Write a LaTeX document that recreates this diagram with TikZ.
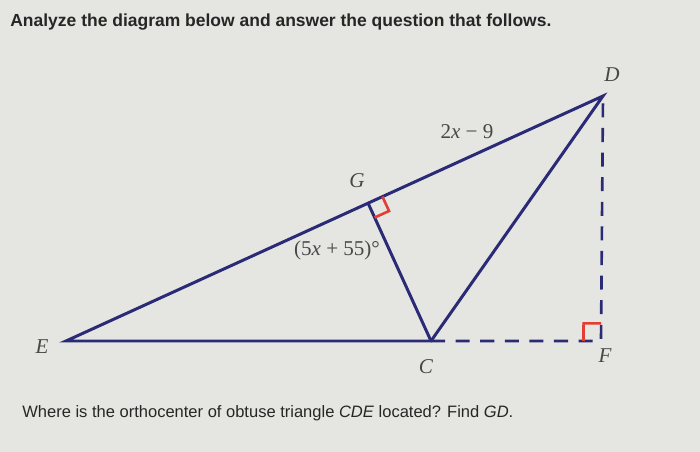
\documentclass[tikz,border=0pt]{standalone}
\usepackage{fontspec}
\setmainfont{Liberation Serif}
\setsansfont{Liberation Sans}
\usetikzlibrary{calc}
\definecolor{lineblue}{RGB}{42,42,118}
\definecolor{markred}{RGB}{226,62,52}
\definecolor{paper}{RGB}{229,230,226}
\definecolor{labelgray}{RGB}{72,72,72}
\definecolor{textgray}{RGB}{38,38,38}
\begin{document}
\begin{tikzpicture}[x=0.02cm,y=-0.02cm,
	side/.style={color=lineblue,line width=1.7pt,line join=miter},
	dashside/.style={color=lineblue,line width=1.5pt,dash pattern=on 8pt off 6pt},
	rightmark/.style={color=markred,line width=1.5pt},
	vlabel/.style={color=labelgray,font=\fontsize{12}{14}\selectfont\itshape,inner sep=0pt},
	mlabel/.style={color=labelgray,font=\fontsize{12}{14}\selectfont,inner sep=0pt},
	question/.style={color=textgray,font=\sffamily\fontsize{9.4}{12}\selectfont,anchor=west,inner sep=0pt}]
	\fill[paper] (0,0) rectangle (700,452);
	\useasboundingbox (0,0) rectangle (700,452);
	% points
	\coordinate (E) at (66,341);
	\coordinate (C) at (431,341);
	\coordinate (D) at (603,96);
	\coordinate (F) at (601,341);
	\coordinate (G) at ($(E)!(C)!(D)$);
	% triangle and altitudes
	\draw[dashside] (C) -- (F) -- (D);
	\draw[side] (E) -- (D) -- (C) -- cycle;
	\draw[side] (C) -- (G);
	% right angles
	\draw[rightmark] ($(G)!9pt!(D)$) -- ($($(G)!9pt!(D)$)+($(G)!9pt!(C)$)-(G)$) -- ($(G)!9pt!(C)$);
	\draw[rightmark] ($(F)!10pt!(C)$) -- ($($(F)!10pt!(C)$)+($(F)!10pt!(D)$)-(F)$) -- ($(F)!10pt!(D)$);
	% labels
	\node[vlabel] (lD) at (612,75) {D};
	\node[vlabel] (lG) at (357,181) {G};
	\node[vlabel] (lE) at (42,347) {E};
	\node[vlabel] (lC) at (426,367) {C};
	\node[vlabel] (lF) at (605,356) {F};
	\node[mlabel] (lGD) at (467,132) {2\textit{x} − 9};
	\node[mlabel] (lang) at (337,250) {(5\textit{x} + 55)°};
	% text
	\node[question,font=\sffamily\bfseries\fontsize{9.95}{12}\selectfont] (top) at (10,22) {Analyze the diagram below and answer the question that follows.};
	\node[question] (bottom) at (22,413) {Where is the orthocenter of obtuse triangle \textit{CDE} located? Find \textit{GD}.};
\end{tikzpicture}
\end{document}
